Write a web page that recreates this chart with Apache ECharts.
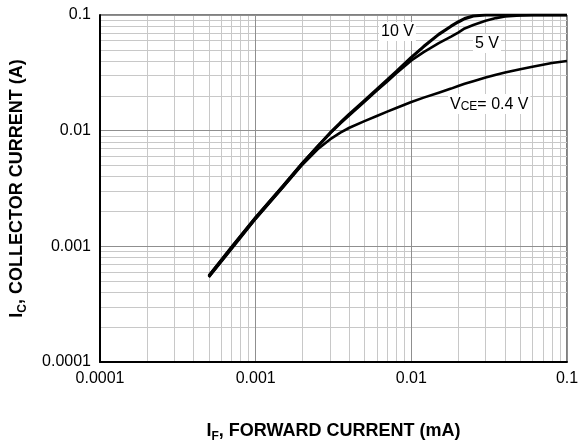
<!DOCTYPE html>
<html>
<head>
<meta charset="utf-8">
<script src="https://cdn.jsdelivr.net/npm/echarts@6/dist/echarts.min.js"></script>
<style>
  html, body { margin: 0; padding: 0; background: #fff; }
  #chart { width: 579px; height: 447px; }
</style>
</head>
<body>
<div id="chart"></div>
<script>
// forward current (mA) and collector current (A)
const ifmA = [0.0005, 0.0007, 0.001, 0.0015, 0.002, 0.0025, 0.003, 0.0035, 0.004, 0.005, 0.006, 0.007, 0.008, 0.01, 0.012, 0.015, 0.018, 0.02, 0.022, 0.025, 0.03, 0.035, 0.04, 0.05, 0.06, 0.07, 0.08, 0.1];
const ic10V = [0.00055, 0.00097, 0.00176, 0.0033, 0.0052, 0.0073, 0.0095, 0.0117, 0.0139, 0.0182, 0.0227, 0.0274, 0.0323, 0.043, 0.0533, 0.068, 0.08, 0.087, 0.093, 0.098, 0.1, 0.1, 0.1, 0.1, 0.1, 0.1, 0.1, 0.1];
const ic5V = [0.00056, 0.00099, 0.00179, 0.00335, 0.0053, 0.0073, 0.0095, 0.0116, 0.0136, 0.0178, 0.0222, 0.0266, 0.0313, 0.0405, 0.0477, 0.0571, 0.065, 0.0705, 0.0765, 0.082, 0.089, 0.094, 0.097, 0.099, 0.1, 0.1, 0.1, 0.1];
const ic04V = [0.00054, 0.00095, 0.00173, 0.00325, 0.0051, 0.0069, 0.0084, 0.0096, 0.0106, 0.0121, 0.0134, 0.0146, 0.0157, 0.0177, 0.0193, 0.0213, 0.0231, 0.0243, 0.0254, 0.0268, 0.0288, 0.0305, 0.0318, 0.034, 0.0357, 0.0372, 0.0384, 0.04];

const xTickLabels = ["0.0001", "0.001", "0.01", "0.1"];
const yTickLabels = ["0.0001", "0.001", "0.01", "0.1"];
const decades = [0.0001, 0.001, 0.01];
const axisMin = 0.0001, axisMax = 0.1;

const font = "'Liberation Sans', Arial, Helvetica, sans-serif";

// minor log grid lines (2..9 in each decade)
const minorVals = [];
decades.forEach(d => { for (let k = 2; k <= 9; k++) minorVals.push(+(d * k).toPrecision(3)); });

const pairs = ys => ifmA.map((x, i) => [x, ys[i]]);
const tickFmt = labels => v => labels[Math.round(Math.log10(v)) + 4] || "";

const nameRich = {
  b: { fontSize: 18, fontWeight: "bold", fontFamily: font, color: "#000", lineHeight: 22 },
  s: { fontSize: 12, fontWeight: "bold", fontFamily: font, color: "#000", lineHeight: 22, padding: [11, 0, 0, 0] }
};

const chart = echarts.init(document.getElementById("chart"));

chart.setOption({
  animation: false,
  grid: {
    left: 100, right: 12, top: 15, bottom: 85,
    containLabel: false, outerBoundsMode: "none",
    show: true, borderColor: "#000", borderWidth: 1
  },
  xAxis: {
    type: "log", logBase: 10, min: axisMin, max: axisMax, interval: 1,
    z: 2,
    axisLine: { show: true, lineStyle: { color: "#000", width: 2 } },
    axisTick: { show: false },
    splitLine: { show: true, lineStyle: { color: "#8f8f8f", width: 1 } },
    axisLabel: { formatter: tickFmt(xTickLabels), color: "#000", fontSize: 16, fontFamily: font, margin: 9, showMinLabel: true, showMaxLabel: true },
    name: "{b|I}{s|F}{b|, FORWARD CURRENT (mA)}",
    nameLocation: "middle",
    nameGap: 58,
    nameTextStyle: { rich: nameRich }
  },
  yAxis: {
    type: "log", logBase: 10, min: axisMin, max: axisMax, interval: 1,
    z: 2,
    axisLine: { show: true, lineStyle: { color: "#000", width: 2 } },
    axisTick: { show: false },
    splitLine: { show: true, lineStyle: { color: "#8f8f8f", width: 1 } },
    axisLabel: { formatter: tickFmt(yTickLabels), color: "#000", fontSize: 16, fontFamily: font, margin: 9, showMinLabel: true, showMaxLabel: true },
    name: "{b|I}{s|C}{b|, COLLECTOR CURRENT (A)}",
    nameLocation: "middle",
    nameRotate: 90,
    nameGap: 72,
    nameTextStyle: { rich: nameRich }
  },
  series: [
    {
      type: "lines", coordinateSystem: "cartesian2d", polyline: false, silent: true, z: 1,
      lineStyle: { color: "#c8c8c8", width: 1, opacity: 1 },
      data: minorVals.map(v => ({ coords: [[v, axisMin], [v, axisMax]] }))
        .concat(minorVals.map(v => ({ coords: [[axisMin, v], [axisMax, v]] })))
    },
    { name: "10 V", type: "line", data: pairs(ic10V), showSymbol: false, z: 3, lineStyle: { color: "#000", width: 3.2 } },
    { name: "5 V", type: "line", data: pairs(ic5V), showSymbol: false, z: 3, lineStyle: { color: "#000", width: 2.6 } },
    { name: "0.4 V", type: "line", data: pairs(ic04V), showSymbol: false, z: 3, lineStyle: { color: "#000", width: 2.6 } }
  ],
  graphic: [
    { type: "text", left: 379, top: 22, z: 10, style: { text: "10 V", fill: "#000", font: "16px " + font, backgroundColor: "#fff", padding: [2, 2, 1, 2] } },
    { type: "text", left: 473, top: 34, z: 10, style: { text: "5 V", fill: "#000", font: "16px " + font, backgroundColor: "#fff", padding: [2, 2, 1, 2] } },
    {
      type: "text", left: 448, top: 94, z: 10,
      style: {
        text: "{a|V}{c|CE}{a|= 0.4 V}",
        backgroundColor: "#fff", padding: [2, 2, 1, 2],
        rich: {
          a: { fontSize: 16, fontFamily: font, fill: "#000", lineHeight: 17, verticalAlign: "bottom" },
          c: { fontSize: 12, fontFamily: font, fill: "#000", lineHeight: 17, verticalAlign: "bottom" }
        }
      }
    }
  ]
});
</script>
</body>
</html>
